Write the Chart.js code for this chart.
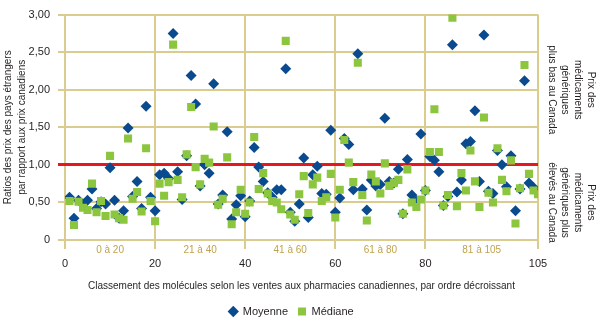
<!DOCTYPE html>
<html>
<head>
<meta charset="utf-8">
<script src="https://cdn.jsdelivr.net/npm/chart.js@4"></script>
<style>
  html, body { margin: 0; padding: 0; background: #fff; }
</style>
</head>
<body>
<canvas id="chart" width="599" height="322"></canvas>
<script>
// Ratio étranger/canadien par molécule, rang 1 à 105
const moyenne = [
  0.57, 0.29, 0.53, 0.48, 0.53, 0.68, 0.42, 0.51, 0.48, 0.96,
  0.53, 0.29, 0.39, 1.49, 0.58, 0.78, 0.42, 1.78, 0.57, 0.39,
  0.87, 0.89, 0.82, 2.75, 0.91, 0.54, 1.12, 2.19, 1.81, 0.72,
  1.00, 0.89, 2.08, 0.48, 0.60, 1.44, 0.28, 0.47, 0.59, 0.31,
  0.52, 1.23, 0.97, 0.78, 0.63, 0.57, 0.67, 0.67, 2.28, 0.37,
  0.25, 0.48, 1.09, 0.30, 0.87, 0.98, 0.62, 0.61, 1.46, 0.37,
  0.56, 1.35, 1.27, 0.67, 2.48, 0.68, 0.40, 0.80, 0.72, 0.74,
  1.62, 0.78, 0.76, 0.94, 0.35, 1.07, 0.60, 0.52, 1.41, 0.66,
  1.11, 1.06, 0.91, 0.46, 0.58, 2.60, 0.64, 0.80, 1.28, 1.31,
  1.72, 0.78, 2.73, 0.65, 0.62, 1.19, 1.00, 0.71, 1.12, 0.39,
  0.68, 2.12, 0.76, 0.70, 0.64
];
const mediane = [
  0.52, 0.20, 0.51, 0.43, 0.40, 0.75, 0.37, 0.52, 0.32, 1.12,
  0.34, 0.29, 0.27, 1.35, 0.55, 0.64, 0.38, 1.22, 0.52, 0.25,
  0.75, 0.59, 0.77, 2.60, 0.80, 0.57, 1.14, 1.77, 0.97, 0.74,
  1.08, 1.03, 1.51, 0.47, 0.55, 1.10, 0.21, 0.37, 0.67, 0.35,
  0.50, 1.37, 0.68, 0.89, 0.62, 0.52, 0.50, 0.41, 2.65, 0.34,
  0.27, 0.61, 0.85, 0.36, 0.74, 0.83, 0.52, 0.57, 0.88, 0.30,
  0.67, 1.33, 1.03, 0.77, 2.36, 0.60, 0.26, 0.87, 0.78, 0.62,
  1.02, 0.72, 0.76, 0.80, 0.35, 0.94, 0.50, 0.44, 0.54, 0.66,
  1.17, 1.74, 1.17, 0.46, 0.60, 2.96, 0.45, 0.89, 0.66, 1.19,
  0.78, 0.44, 1.63, 0.63, 0.50, 1.22, 0.80, 0.65, 1.06, 0.22,
  0.69, 2.33, 0.88, 0.66, 0.61
];

const xTicks = [0, 20, 40, 60, 80, 105];
const rangeLabels = ['0 à 20', '21 à 40', '41 à 60', '61 à 80', '81 à 105'];
const noteAbove = ['Prix des', 'médicaments', 'génériques', 'plus bas au Canada'];
const noteBelow = ['Prix des', 'médicaments', 'génériques plus', 'élevés au Canada'];

const FONT = "'Liberation Sans', Arial, sans-serif";
const FONT_SIZE = 10;
const TEXT = '#231f20';
const GRID = '#dacb8e';
const GOLD_TEXT = '#bfa34b';
const RED = '#e3191f';
const BLUE = '#0a4b8f';
const GREEN = '#8cc63f';

Chart.defaults.font.family = FONT;
Chart.defaults.font.size = FONT_SIZE;
Chart.defaults.color = TEXT;

function drawSideNote(ctx, lines, x, cy) {
  ctx.save();
  ctx.translate(x, cy);
  ctx.rotate(Math.PI / 2);
  lines.forEach((line, i) => ctx.fillText(line, 0, i * 13));
  ctx.restore();
}

// range captions under the axis and the two notes on the right
const notesPlugin = {
  id: 'notes',
  afterDraw(chart) {
    const {ctx, scales: {x, y}} = chart;
    ctx.save();
    ctx.font = FONT_SIZE + 'px ' + FONT;
    ctx.textAlign = 'center';
    ctx.textBaseline = 'middle';
    ctx.fillStyle = GOLD_TEXT;
    rangeLabels.forEach((label, i) => {
      const mid = (xTicks[i] + xTicks[i + 1]) / 2;
      ctx.fillText(label, x.getPixelForValue(mid), y.bottom + 10);
    });
    ctx.fillStyle = TEXT;
    drawSideNote(ctx, noteAbove, 591, (y.getPixelForValue(3) + y.getPixelForValue(1)) / 2);
    drawSideNote(ctx, noteBelow, 591, (y.getPixelForValue(1) + y.getPixelForValue(0)) / 2);
    ctx.restore();
  }
};

const isOne = c => c.tick && c.tick.value === 1;

new Chart(document.getElementById('chart'), {
  type: 'scatter',
  data: {
    datasets: [
      {
        label: 'Moyenne',
        data: moyenne.map((v, i) => ({x: i + 1, y: v})),
        pointStyle: 'rectRot',
        pointRadius: 5.5,
        pointHoverRadius: 5.5,
        borderWidth: 0,
        backgroundColor: BLUE,
        borderColor: BLUE,
        order: 1
      },
      {
        label: 'Médiane',
        data: mediane.map((v, i) => ({x: i + 1, y: v})),
        pointStyle: 'rect',
        pointRadius: 5.7,
        pointHoverRadius: 5.7,
        borderWidth: 0,
        backgroundColor: GREEN,
        borderColor: GREEN,
        order: 0
      }
    ]
  },
  options: {
    responsive: false,
    animation: false,
    layout: {padding: {left: 0, right: 16, top: 10, bottom: -5}},
    plugins: {
      tooltip: {enabled: false},
      legend: {
        position: 'bottom',
        labels: {
          usePointStyle: true,
          boxWidth: 8,
          boxHeight: 8,
          padding: 10,
          color: TEXT,
          font: {size: 11},
          sort: (a, b) => a.datasetIndex - b.datasetIndex
        }
      }
    },
    scales: {
      x: {
        type: 'linear',
        min: 0,
        max: 105,
        afterBuildTicks: s => { s.ticks = xTicks.map(v => ({value: v})); },
        afterFit: s => { s.height = s.chart.height - 240 - s.chart.legend.height + 5; },
        grid: {color: GRID, lineWidth: 2, tickLength: 9},
        border: {display: false},
        ticks: {color: TEXT, padding: 8, maxRotation: 0, font: {size: 11}},
        title: {
          display: true,
          text: 'Classement des molécules selon les ventes aux pharmacies canadiennes, par ordre décroissant',
          color: TEXT,
          padding: {top: 0, bottom: 4}
        }
      },
      y: {
        min: 0,
        max: 3,
        afterFit: s => { s.width = 65; },
        grid: {
          color: c => isOne(c) ? RED : GRID,
          lineWidth: c => isOne(c) ? 3 : 2,
          tickLength: 7
        },
        border: {display: false},
        ticks: {
          stepSize: 0.5,
          padding: 8,
          color: TEXT,
          font: {size: 11},
          callback: v => v === 0 ? '0' : v.toFixed(2).replace('.', ',')
        },
        title: {
          display: true,
          text: ['Ratios des prix des pays étrangers', 'par rapport aux prix canadiens'],
          color: TEXT,
          font: {lineHeight: 1.4},
          padding: {top: 1, bottom: 0}
        }
      },
      y2: {
        position: 'right',
        display: true,
        grid: {display: false},
        border: {display: false},
        ticks: {display: false},
        afterFit: s => { s.width = 45; }
      }
    }
  },
  plugins: [notesPlugin]
});
</script>
</body>
</html>
